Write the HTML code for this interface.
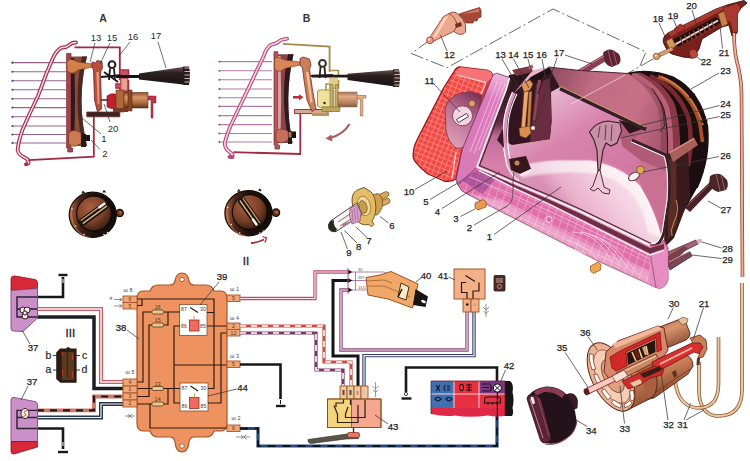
<!DOCTYPE html>
<html><head><meta charset="utf-8"><title>Headlight</title>
<style>
html,body{margin:0;padding:0;background:#fff;}
body{width:750px;height:461px;overflow:hidden;}
svg{display:block;}
svg text{font-family:"Liberation Sans",sans-serif;}
</style></head><body>
<svg width="750" height="461" viewBox="0 0 750 461">
<!-- 00_defs.svg -->
<defs>
<filter id="b1" x="-10%" y="-10%" width="120%" height="120%"><feGaussianBlur stdDeviation="0.5"/></filter>
<filter id="b2" x="-10%" y="-10%" width="120%" height="120%"><feGaussianBlur stdDeviation="1.2"/></filter>
<filter id="b3" x="-20%" y="-20%" width="140%" height="140%"><feGaussianBlur stdDeviation="3"/></filter>
<filter id="b6" x="-30%" y="-30%" width="160%" height="160%"><feGaussianBlur stdDeviation="6"/></filter>
<linearGradient id="coneG" x1="0" y1="0" x2="0" y2="1"><stop offset="0" stop-color="#6a5048"/><stop offset=".35" stop-color="#2a2020"/><stop offset="1" stop-color="#1a1414"/></linearGradient>
<linearGradient id="cylA" x1="0" y1="0" x2="0" y2="1"><stop offset="0" stop-color="#8a5030"/><stop offset=".3" stop-color="#d89868"/><stop offset=".7" stop-color="#a86838"/><stop offset="1" stop-color="#603018"/></linearGradient>
<linearGradient id="cylB" x1="0" y1="0" x2="0" y2="1"><stop offset="0" stop-color="#a08848"/><stop offset=".3" stop-color="#f0dca0"/><stop offset=".7" stop-color="#c8a868"/><stop offset="1" stop-color="#806028"/></linearGradient>
<radialGradient id="knobG" cx=".45" cy=".4" r=".6"><stop offset="0" stop-color="#7a4838"/><stop offset=".7" stop-color="#4a2820"/><stop offset="1" stop-color="#1e1210"/></radialGradient>
</defs>

<!-- 10_diagA.svg -->
<g id="diagA">
<text x="103" y="22" font-size="10.5" font-weight="bold" text-anchor="middle" fill="#333">A</text>
<!-- rays -->
<g stroke="#94648e" stroke-width="1.1">
<path d="M11.5 62.6H66M11.5 71.7H66M11.5 80.7H66M11.5 89.8H66M11.5 98.8H66M11.5 107.6H66M11.5 116.8H66M11.5 126H66M11.5 134.5H66M11.5 143H66"/>
</g>
<g fill="#604080"><circle cx="12.5" cy="62.6" r="1.2"/><circle cx="12.5" cy="71.7" r="1"/><circle cx="12.5" cy="80.7" r="1"/><circle cx="12.5" cy="89.8" r="1"/><circle cx="12.5" cy="98.8" r="1"/><circle cx="12.5" cy="107.6" r="1"/><circle cx="12.5" cy="116.8" r="1"/><circle cx="12.5" cy="126" r="1"/><circle cx="12.5" cy="134.5" r="1"/><circle cx="12.5" cy="143" r="1"/></g>
<!-- lens outline -->
<path id="lensA" d="M76 42.5 L72 43 Q69 45.5 66 47 L61 47.8 Q56 51 53 58 L47 72 L38 96 L29.5 114 L22.6 129.5 Q18.5 141 17.6 150 Q18.5 154.5 23 156.6 L27.8 159.5 L28.6 163.2 L26 164.3" fill="none" stroke="#a02c4c" stroke-width="3.8" stroke-linejoin="round" stroke-linecap="round"/>
<path d="M76 42.5 L72 43 Q69 45.5 66 47 L61 47.8 Q56 51 53 58 L47 72 L38 96 L29.5 114 L22.6 129.5 Q18.5 141 17.6 150 Q18.5 154.5 23 156.6 L27.8 159.5 L28.6 163.2" fill="none" stroke="#f8dce6" stroke-width="1.5" stroke-linejoin="round" stroke-linecap="round"/>
<!-- housing -->
<path d="M74.5 47.4 H119.8 V80 M93.8 157 V114 M28.6 160.2 L94.6 156.6" fill="none" stroke="#a02840" stroke-width="1.8"/>
<!-- shelf -->
<path d="M86.8 112 H119.8 V116.8 H86.8 Z" fill="#3a2420" stroke="#6a2830" stroke-width="0.8"/>
<!-- reflector frame -->
<path d="M66.6 53.4 H71 V148 H72.5 V152 H67.8 V148 H66.6 Z" fill="#a04848" stroke="#7a2030" stroke-width="0.7"/>
<!-- reflector body -->
<path d="M71 56.5 H87 Q76 100 87 146 H71 Z" fill="#8a4c3c"/>
<path d="M71 58 H74 Q76 100 74 144 H71 Z" fill="#2e1a1a"/>
<path d="M82 56.5 H87 Q76 100 87 146 H83 Q72.5 100 82 56.5 Z" fill="#4a2824"/>
<path d="M67 62 Q68 58.5 72 59.5 L78 62 L93 64 L93 67 L78 70 L74 73 Q69 74 67 70 Z" fill="#d08048" stroke="#7a3020" stroke-width="0.6"/>
<path d="M68.6 134 Q70 130 76 130.5 L81 133 L81.6 143 L76 146 Q70 147 68.6 143 Z" fill="#c87c50" stroke="#6a2c20" stroke-width="0.6"/>
<path d="M81 133 L86 134 L86 147 L81 147Z" fill="#2a1a1a"/>
<path d="M83 135 H90 V141 H83Z" fill="#1e1414"/>
<!-- bracket 15 -->
<path d="M92 62 L96 63 L97 60.5 L102 61.5 L102.5 68 L100.5 72 L101.5 109 L97.5 112 L94.5 100 L93.5 70 L92 67 Z" fill="#b85040" stroke="#782028" stroke-width="0.8"/>
<path d="M96.3 72 L99 72 L99.3 104 L97.6 104 Z" fill="#e09878"/>
<!-- ring 16 -->
<circle cx="112" cy="64.7" r="3.4" fill="#fff" stroke="#2a1c1c" stroke-width="2"/>
<path d="M110 68.5 L109 80 M114 68.5 L115 80 M101 77 L122 75 M104 72 L118 82" stroke="#1e1616" stroke-width="1.8" fill="none"/>
<!-- stepped housing right -->
<path d="M119.8 70 H128.5 V76 M128.5 80 V92 H120 V88 H116 V84 H122 V80" fill="none" stroke="#a02840" stroke-width="1.6"/>
<path d="M119.800 70 H128.500 V92 H120 V88 H116 V84 H119.800Z" fill="#b83848" opacity=".85"/><path d="M121.500 79 H127 V90 H121.500Z" fill="#e8a090"/>
<!-- rod + cone 17 -->
<path d="M116 75 H141 V78 H116Z" fill="#181212"/>
<path d="M139 73.5 L183 67 L183 84.5 L139 79.5 Z" fill="url(#coneG)"/>
<path d="M183 66.5 H189 Q191 75 189 85 H183 Z" fill="#2a1c1c"/>
<path d="M184.500 68H189.500M184.500 71.500H190M184.500 75H190.200M184.500 78.500H190M184.500 82H189.500" stroke="#d8c8c0" stroke-width="0.9"/>
<!-- motor 20 -->
<path d="M107 96 Q112 92 117 95 V108 Q112 110 107 107 Z" fill="#c02030" stroke="#701018" stroke-width="0.6"/>
<path d="M116 90 H124 V112 H116 Z" fill="#b06838" stroke="#603018" stroke-width="0.6"/>
<path d="M124 92.5 H148 V108 H124 Z" fill="url(#cylA)" stroke="#5a2c18" stroke-width="0.6"/>
<path d="M128 90 H132 V111 H128Z" fill="#8a4828" stroke="#4a2010" stroke-width="0.5"/>
<path d="M101 100 H108" stroke="#402020" stroke-width="1.5"/>
<path d="M148 96 H156 V103 H153 V118 H151 V100 H148 Z" fill="#b83848" stroke="#802030" stroke-width="0.5"/>
<path d="M113 108 H128 V112 H113 Z" fill="#7a3828"/>
<!-- labels -->
<g font-size="9.5" fill="#2a2a2a">
<text x="96" y="41" text-anchor="middle">13</text>
<text x="112" y="41" text-anchor="middle">15</text>
<text x="133" y="40" text-anchor="middle">16</text>
<text x="156" y="39" text-anchor="middle">17</text>
<text x="113" y="131.5" text-anchor="middle">20</text>
<text x="104" y="141.5" text-anchor="middle">1</text>
<text x="105" y="156.5" text-anchor="middle">2</text>
</g>
<g stroke="#333" stroke-width="0.7" fill="none">
<path d="M95 43 L90 62M110 43 L100 64M130 42 L119 56M158 42 L166 68M110 122 L104 104M101 134 L82 118M100 149.5 L91 140"/>
</g>
</g>

<!-- 11_diagB.svg -->
<g id="diagB">
<text x="306.5" y="22" font-size="10.5" font-weight="bold" text-anchor="middle" fill="#333">B</text>
<g stroke="#b07ca8" stroke-width="1.1">
<path d="M218.5 61.6H272M218.5 70.8H272M218.5 79.8H272M218.5 89H272M218.5 97.7H272M218.5 106.4H272M218.5 115.6H272M218.5 124.6H272M218.5 133.5H272M218.5 142H272"/>
</g>
<g fill="#805080"><circle cx="219.5" cy="61.6" r=".9"/><circle cx="219.5" cy="70.8" r=".9"/><circle cx="219.5" cy="79.8" r=".9"/><circle cx="219.5" cy="89" r=".9"/><circle cx="219.5" cy="97.7" r=".9"/><circle cx="219.5" cy="106.4" r=".9"/><circle cx="219.5" cy="115.6" r=".9"/><circle cx="219.5" cy="124.6" r=".9"/><circle cx="219.5" cy="133.5" r=".9"/><circle cx="219.5" cy="142" r=".9"/></g>
<!-- lens -->
<path d="M287 38.7 L281 40 Q278 42.5 275 43.6 L271 44.8 Q266 48 263.8 56 L257 70 L247.3 90.8 L238 110 L230.5 126 Q226 137 224.8 143 Q224.8 148 228.5 151 L232.5 154.5 L232.6 157 L229.5 156.8" fill="none" stroke="#b04878" stroke-width="3.8" stroke-linejoin="round" stroke-linecap="round"/>
<path d="M287 38.7 L281 40 Q278 42.5 275 43.6 L271 44.8 Q266 48 263.8 56 L257 70 L247.3 90.8 L238 110 L230.5 126 Q226 137 224.8 143 Q224.8 148 228.5 151 L232.5 154.5" fill="none" stroke="#f6cce0" stroke-width="1.7" stroke-linejoin="round" stroke-linecap="round"/>
<!-- housing -->
<path d="M283 43.8 L329.6 46.6 V72" fill="none" stroke="#a88848" stroke-width="1.8"/>
<path d="M300.3 154 V112 M233.5 152.2 L301 154" fill="none" stroke="#a02c44" stroke-width="1.8"/>
<!-- shelf -->
<path d="M294.5 109.5 H328 V113.6 H294.5 Z" fill="#d8a890" stroke="#a03048" stroke-width="1"/>
<path d="M312 113 H329 V116 H312Z" fill="#b89858"/>
<!-- reflector frame -->
<path d="M274 51.7 H277.8 V145 H279.5 V149 H275 V145 H274 Z" fill="#b05858" stroke="#7a2030" stroke-width="0.7"/>
<!-- body -->
<path d="M278 54.3 H293.5 Q283.5 98 292.5 143 H278 Z" fill="#8a4448"/>
<path d="M288 54.3 H293.5 Q283.5 98 292.5 143 H289 Q279.5 98 288 54.3 Z" fill="#2c1a1c"/>
<path d="M278 56 H280.5 Q282 98 280.5 141 H278 Z" fill="#d8a0a0"/>
<path d="M274.5 60 Q275.5 56.5 279 57.5 L285 60 L300 62 L300 65 L285 68.5 L281 71 Q276 72 274.5 68 Z" fill="#d88858" stroke="#7a3020" stroke-width="0.6"/>
<path d="M276 132 Q277.5 128.5 283 129 L288 131 L288.5 140 L283 142.5 Q277.5 143.5 276 140 Z" fill="#c87060" stroke="#6a2c20" stroke-width="0.6"/>
<path d="M288 131 H292 V144 H288Z" fill="#2a1a1a"/>
<path d="M290 131.5 H296 V138 H290Z" fill="#1e1414"/>
<path d="M288.5 132 H291.5 V137.5 H288.5Z" fill="#b07050"/>
<!-- bracket 15 tilted -->
<path d="M300 58.5 L303 57 L309.5 59 L311 65 L309.5 69 L312.5 90 L316 109 L312 111.5 L307 100 L304 80 L302.5 68 L300 65 Z" fill="#c88058" stroke="#782828" stroke-width="0.8"/>
<path d="M306 72 L308.5 72 L312.5 102 L310.5 103 Z" fill="#f0c098"/>
<!-- red arrow -->
<path d="M293 96 H299 V94.3 L303.5 97.3 L299 100.3 V98.6 H293 Z" fill="#c02838"/>
<!-- ring -->
<circle cx="322.5" cy="63.4" r="3.4" fill="#fff" stroke="#3a3020" stroke-width="2"/>
<path d="M320.5 67 L319.5 78 M324.5 67 L325.5 78 M311 76 L333 75" stroke="#2a2418" stroke-width="1.8" fill="none"/>
<!-- stepped housing -->
<path d="M329.6 70.5 H338.5 V76 M338.5 80 V88 H330 V84 H326 V92" fill="none" stroke="#a89048" stroke-width="1.6"/>
<path d="M329 78 H338 V88 H329Z" fill="#d8c070" opacity=".8"/>
<!-- rod + cone -->
<path d="M312 74.8 H349 V77.6 H312Z" fill="#201818"/>
<path d="M347.5 73.8 L393 70 L393 86.2 L347.5 80 Z" fill="url(#coneG)"/>
<path d="M393 69.3 H399 Q401 78 399 87 H393 Z" fill="#3a2828"/>
<path d="M394.500 71H399.500M394.500 74.500H400M394.500 78H400.200M394.500 81.500H400M394.500 85H399.500" stroke="#d8c8c0" stroke-width="0.9"/>
<!-- motor -->
<path d="M317.5 91 Q320 89 324 90 H334 V107 H324 Q320 108 317.5 106 Z" fill="#f0e0a0" stroke="#807030" stroke-width="0.7"/>
<path d="M330 84.5 H333 V111.5 H330Z M335.5 84.5 H338 V111.5 H335.5Z" fill="#c8b060" stroke="#706020" stroke-width="0.5"/>
<path d="M338 92 H357 Q358.5 99 357 107 H338 Z" fill="url(#cylA)" opacity=".8" stroke="#704830" stroke-width="0.5"/>
<path d="M357 95.5 H366 V98 H362.8 V116 H360.3 V99 H357 Z" fill="#e0b088" stroke="#a05840" stroke-width="0.6"/>
<path d="M322 107 H340 V111.5 H322 Z" fill="#c0a858" stroke="#706020" stroke-width="0.5"/>
<circle cx="324.5" cy="103" r="1.3" fill="#403010"/>
<!-- curved arrow -->
<path d="M349.5 124 Q344 134 330 138" fill="none" stroke="#b05860" stroke-width="2.2"/>
<path d="M325.5 138.5 L331.5 134.5 L332.5 141.5 Z" fill="#b05860"/>
</g>

<!-- 20_knobs.svg -->
<g id="knobs">
<defs>
<radialGradient id="kd" cx=".38" cy=".32" r=".8"><stop offset="0" stop-color="#a86040"/><stop offset=".55" stop-color="#7a4028"/><stop offset="1" stop-color="#2a1410"/></radialGradient>
<linearGradient id="kr" x1="0" y1="0" x2="1" y2="0"><stop offset="0" stop-color="#b06840"/><stop offset=".22" stop-color="#4a2418"/><stop offset=".5" stop-color="#1c120e"/><stop offset="1" stop-color="#140c0a"/></linearGradient>
</defs>
<g id="knobA">
<circle cx="119.700" cy="213" r="3.700" fill="#6a3020" stroke="#1c100c" stroke-width="1.200"/>
<circle cx="120.300" cy="212.600" r="1.400" fill="#b06848"/>
<ellipse cx="92.800" cy="214.800" rx="23.600" ry="22.600" fill="url(#kr)"/>
<ellipse cx="92.800" cy="214.800" rx="23.600" ry="22.600" fill="none" stroke="#140c08" stroke-width="1.200"/>
<path d="M72 206 Q70 216 74 226 Q80 236 90 237.500" fill="none" stroke="#c07850" stroke-width="1.200" opacity=".8"/>
<circle cx="94.300" cy="213.800" r="18.200" fill="#120a08"/>
<circle cx="94" cy="213.600" r="16.800" fill="url(#kd)"/>
<g transform="rotate(-36 94 213.600)">
<rect x="77.500" y="209.800" width="33" height="7.600" rx="2.500" fill="#160e0a"/>
<rect x="79" y="210.800" width="26" height="1.300" fill="#c8a070"/>
<rect x="79" y="214.300" width="30" height="1.500" fill="#d8b880"/>
<rect x="101" y="210.300" width="8.500" height="2.600" rx="1.200" fill="#fbf6ec"/>
</g>
<g fill="#f0e4d8"><circle cx="72" cy="209" r=".8"/><circle cx="75.500" cy="226" r=".8"/><circle cx="84" cy="234.500" r=".8"/><circle cx="104" cy="234.500" r=".8"/><circle cx="107.500" cy="232.500" r=".8"/></g>
<path d="M82 193.500 L83 191.500 L84.500 193 M103 192.500 L104 190.800 L105.500 192.500" fill="none" stroke="#1c100c" stroke-width="1.200"/>
</g>
<g id="knobB">
<circle cx="276" cy="212.600" r="3.700" fill="#6a3020" stroke="#1c100c" stroke-width="1.200"/>
<circle cx="276.600" cy="212.200" r="1.400" fill="#b06848"/>
<ellipse cx="248.500" cy="213.200" rx="23.600" ry="22.600" fill="url(#kr)"/>
<ellipse cx="248.500" cy="213.200" rx="23.600" ry="22.600" fill="none" stroke="#140c08" stroke-width="1.200"/>
<path d="M227.700 204.500 Q225.700 214.500 229.700 224.500 Q235.700 234.500 245.700 236" fill="none" stroke="#c07850" stroke-width="1.200" opacity=".8"/>
<circle cx="250" cy="212.200" r="18.200" fill="#120a08"/>
<circle cx="249.700" cy="212" r="16.800" fill="url(#kd)"/>
<g transform="rotate(55 249.700 212)">
<rect x="233.200" y="208.200" width="33" height="7.600" rx="2.500" fill="#160e0a"/>
<rect x="234.700" y="209.200" width="30" height="1.300" fill="#c8a070"/>
<rect x="234.700" y="212.700" width="26" height="1.500" fill="#d8b880"/>
<rect x="256.500" y="212.300" width="8.500" height="2.600" rx="1.200" fill="#fbf6ec"/>
</g>
<g fill="#f0e4d8"><circle cx="227.700" cy="207.500" r=".8"/><circle cx="231.200" cy="224.500" r=".8"/><circle cx="239.700" cy="233" r=".8"/><circle cx="259.700" cy="233" r=".8"/><circle cx="263.200" cy="231" r=".8"/></g>
<path d="M237.700 192 L238.700 190 L240.200 191.500 M258.700 191 L259.700 189.300 L261.200 191" fill="none" stroke="#1c100c" stroke-width="1.200"/>
<path d="M251 243 Q258 242.500 264 239.500" fill="none" stroke="#a03038" stroke-width="1.800"/>
<path d="M262.500 236.500 L266.500 238 L265 242.500" fill="none" stroke="#a03038" stroke-width="1.300"/>
</g>
</g>

<!-- 22_bulb.svg -->
<g id="bulb">
<!-- terminals -->
<path d="M378 195 L386 191.500 L389 193 L388.500 196 L381 200 Z M380.500 201 L388 198 L390 200 L389.500 203 L383 206 Z" fill="#d8a858" stroke="#6a4418" stroke-width=".7"/>
<!-- base -->
<path d="M368 196 L378 193.500 Q383 197 382.500 204 Q382 211 377 215 L368 214 Z" fill="#d0a050" stroke="#6a4418" stroke-width=".7"/>
<!-- flange -->
<path d="M352 200 Q352 191 360 189 L364 187.500 L367 189.500 Q374 192 375.500 202 Q377 214 372 221 L374 224.500 L371.500 226.500 L368.500 224.500 Q360 226 356 219 Q352 211 352 200 Z" fill="#e4bc68" stroke="#6a4818" stroke-width=".9"/>
<ellipse cx="364" cy="206" rx="6.500" ry="10" transform="rotate(-15 364 206)" fill="#f0d898" stroke="#8a6828" stroke-width=".7"/>
<ellipse cx="363" cy="207" rx="4" ry="6.500" transform="rotate(-15 363 207)" fill="#c89c48" stroke="#6a4818" stroke-width=".6"/>
<!-- glass -->
<path d="M357 203 L330.500 221 Q327 225 329 229 Q331 232.500 336 231.500 L362 214.500 Z" fill="#f8f4f0" stroke="#3a3430" stroke-width=".9"/>
<path d="M330.500 221 Q327 225 329 229 Q331 232.500 336 231.500 L337 229 Q333 226 334 220 Z" fill="#2a2624"/>
<path d="M350 208 L357.500 205 L361 213 L360 221 L352 224 L349.500 216 Z" fill="#d8a0c8" stroke="#8a4878" stroke-width=".7"/>
<path d="M352 209 L353 222 M354.500 208 L355.500 221 M357 207 L358 220" stroke="#9a5888" stroke-width=".6"/>
<path d="M338 222 L350 214 M340 226 L351 219" stroke="#5a4a48" stroke-width=".8"/>
<path d="M342 224 L350 221.500 L349 224 L343 226.500Z" fill="#b070a0"/>
</g>

<!-- 25_topparts.svg -->
<g id="topparts">
<defs>
<linearGradient id="tubeG" x1="0" y1="0" x2="1" y2="0"><stop offset="0" stop-color="#c87860"/><stop offset=".5" stop-color="#f4c4a8"/><stop offset="1" stop-color="#b86850"/></linearGradient>
</defs>
<!-- dash-dot outline -->
<path d="M430 40 L411.3 53.5 L447 67.7 L553 9 L646 52 L639 68 M653 59 L625 75" fill="none" stroke="#5a5a54" stroke-width=".9" stroke-dasharray="14 3 2 3"/>
<path d="M625 75 L571 104" stroke="#f0d8e0" stroke-width=".7"/>
<!-- part 12 -->
<path d="M459 14 L479.5 7.5 L481 10 L481 17 L478 18 L477 21 L474 20.5 L473 23 L466 23 Z" fill="#a84838" stroke="#6a2418" stroke-width=".7"/>
<path d="M462 14 L479 8.5 L479 12 Z" fill="#d07860"/>
<path d="M449 13.5 Q452 11 456 12.5 L463 19 Q467 26 465.5 32 Q463 35.5 458 34 L453 31 Q458 28 456 22 Q454 17 449 13.5 Z" fill="#e8a890" stroke="#7a3020" stroke-width=".8"/>
<path d="M443.5 16.5 L449 13.5 Q455 17 456.5 23 Q457 28 453.5 31.5 L433 41.5 L430 37 Z" fill="#eba88c" stroke="#8a3828" stroke-width=".8"/>
<path d="M444 18 L448.5 15.5 L436 37 L432.5 38 Z" fill="#f8d4c0"/>
<path d="M455 24 L461 22 L462 26 L456 28Z" fill="#7a3020"/>
<circle cx="430" cy="40.3" r="3.4" fill="#e89880" stroke="#8a3828" stroke-width=".8"/>
<circle cx="429.2" cy="39.4" r="1.2" fill="#fbe0d4"/>
<!-- part 18-22 cylinder -->
<g>
<path d="M664 44 Q661 38 668 33 L716 9 L727 5 L744 0.5 L747 3 L740 9 L737 14 L737 33 L732 36 L729 25 L722 27 L702 39 L699 49 L693 58 L683 57 L672 54 Q667 52 664 44 Z" fill="#7a201c" stroke="#3a0c0c" stroke-width=".9"/>
<path d="M672 40 L716 17 L722 22 L678 47 Z" fill="#1c1010"/>
<path d="M675 44.5 L718 20.5" stroke="#f4d8d0" stroke-width="2"/>
<path d="M680 37 L683 44 M684.500 35 L687.500 42 M689 32.500 L692 39.500 M693.500 30.500 L696.500 37.500 M698 28 L701 35 M702.500 25.500 L705.500 32.500 M707 23 L710 30 M711.500 21 L714.500 28" stroke="#b85040" stroke-width="1"/>
<path d="M668 33 L716 9 L727 5 L728 8 L718 12.500 L671 36.500 Z" fill="#a43c30"/>
<path d="M723 8 L737 3 L741 8 L737.500 14 L737.500 32 L733 33 L730 22 L724 20 Z" fill="#a83830" stroke="#5a1410" stroke-width=".6"/>
<path d="M718 14 L724 11 L728 24 L722 27Z" fill="#c88048" stroke="#5a2410" stroke-width=".5"/>
<path d="M666 41 L672 38 L676 46 L670 50Z" fill="#d09858" stroke="#6a3410" stroke-width=".5"/>
<path d="M674 29 L680 24 L685 26 L684 30 L677 33Z" fill="#b03028" stroke="#5a1410" stroke-width=".5"/>
<path d="M689 52 Q691 48 696 50 L698 55 Q696 59 691 58 Z" fill="#b84838" stroke="#5a1410" stroke-width=".6"/>
<path d="M659 53 L672 47 L673.500 50 L660.500 56.500 Z" fill="#d8a070" stroke="#7a4020" stroke-width=".6"/>
<circle cx="656.5" cy="56.4" r="3.2" fill="#d89868" stroke="#7a4020" stroke-width=".7"/>
<circle cx="655.7" cy="55.5" r="1.1" fill="#f8e0c8"/>
</g>
<!-- tube right -->
<path d="M734 33 Q734 48 736.500 60 Q741 76 741.500 92 L742.500 277" fill="none" stroke="#8a4030" stroke-width="3.6"/>
<path d="M734 33 Q734 48 736.500 60 Q741 76 741.500 92 L742.500 277" fill="none" stroke="#f0b098" stroke-width="2"/>
<path d="M742 283 L742 390 Q742 416 718 416 L716 416 Q700 414 699 392 L699 362" fill="none" stroke="#8a5838" stroke-width="3.6"/>
<path d="M742 283 L742 390 Q742 416 718 416 L716 416 Q700 414 699 392 L699 362" fill="none" stroke="#ecc8a0" stroke-width="2"/>
<path d="M718.500 337 L718.500 384 Q718.500 408 698 408 Q680 407 676 386 L673.500 371" fill="none" stroke="#8a5838" stroke-width="3.6"/>
<path d="M718.500 337 L718.500 384 Q718.500 408 698 408 Q680 407 676 386 L673.500 371" fill="none" stroke="#ecc8a0" stroke-width="2"/>
</g>

<!-- 30_headlight.svg -->
<g id="headlight">
<defs>
<pattern id="chk" width="5" height="5" patternUnits="userSpaceOnUse" patternTransform="rotate(22)"><rect width="5" height="5" fill="#f24848"/><path d="M0 0H5M0 0V5" stroke="#fc9080" stroke-width="1.5"/></pattern>
<pattern id="chk2" width="7" height="7" patternUnits="userSpaceOnUse" patternTransform="matrix(1 .48 -.35 1 0 0)"><rect width="7" height="7" fill="#e070aa"/><path d="M0 0H7M0 0V7" stroke="#f8b4d6" stroke-width="1"/></pattern>
<linearGradient id="frameG" x1="495" y1="72" x2="465" y2="180" gradientUnits="userSpaceOnUse"><stop offset="0" stop-color="#f0b8dc"/><stop offset=".25" stop-color="#dc78bc"/><stop offset="1" stop-color="#d87cb8"/></linearGradient>
<linearGradient id="bowlG" x1="640" y1="175" x2="575" y2="225" gradientUnits="userSpaceOnUse"><stop offset="0" stop-color="#f8e8ee"/><stop offset=".4" stop-color="#f4d0e0"/><stop offset=".8" stop-color="#eab0cc"/><stop offset="1" stop-color="#d890b4"/></linearGradient>
<linearGradient id="bowlG2" x1="0" y1="160" x2="0" y2="200" gradientUnits="userSpaceOnUse"><stop offset="0" stop-color="#fff" stop-opacity=".9"/><stop offset="1" stop-color="#fff" stop-opacity="0"/></linearGradient>
<linearGradient id="topG" x1="556" y1="80" x2="668" y2="125" gradientUnits="userSpaceOnUse"><stop offset="0" stop-color="#985068"/><stop offset=".3" stop-color="#c06c84"/><stop offset=".7" stop-color="#c87088"/><stop offset="1" stop-color="#a85870"/></linearGradient>
<linearGradient id="intG" x1="540" y1="100" x2="600" y2="200" gradientUnits="userSpaceOnUse"><stop offset="0" stop-color="#e8b4d0"/><stop offset=".4" stop-color="#d884ac"/><stop offset="1" stop-color="#d076a0"/></linearGradient>
<linearGradient id="stripG" x1="500" y1="76" x2="490" y2="165" gradientUnits="userSpaceOnUse"><stop offset="0" stop-color="#2a1218"/><stop offset=".5" stop-color="#5a2840"/><stop offset=".68" stop-color="#c06c98"/><stop offset="1" stop-color="#d880ac"/></linearGradient>
<linearGradient id="sockG" x1="478" y1="95" x2="445" y2="140" gradientUnits="userSpaceOnUse"><stop offset="0" stop-color="#7a3458"/><stop offset=".4" stop-color="#b8688c"/><stop offset="1" stop-color="#dca0b8"/></linearGradient>
</defs>
<!-- knob 17 top -->
<path d="M576 71 L604 54.500 L607.500 60 L582 75.500 Z" fill="#8a4054"/>
<path d="M578 71.500 L604 56" stroke="#c88898" stroke-width="1"/>
<path d="M603 53 Q607 48 613 50 L619 54 Q622 60 619 64 L612 67 Q607 66 605 62 Z" fill="#5a2430"/>
<path d="M608 50 L612 66 M613 50 L617 65" stroke="#a86070" stroke-width=".9"/>
<!-- knob 27 -->
<path d="M684 207 L710 182 L714 187 L690 212 Z" fill="#4a2028"/>
<path d="M686 207 L710 184" stroke="#9a6068" stroke-width=".9"/>
<path d="M710 176 Q716 172 722 175 L727 180 Q729 186 726 190 L718 192 Q712 190 709 185 Z" fill="#4a2428"/>
<path d="M716 174 L720 191 M721 175 L725 190" stroke="#9a6a68" stroke-width=".9"/>
<!-- rods 28 29 -->
<path d="M668 252 L696 240 L698 244 L670 258 Z" fill="#a06474" stroke="#3a1820" stroke-width=".7"/>
<path d="M696 240 L701 238.500 L702.500 242 L698 244Z" fill="#d8b0b8"/>
<path d="M668 262 L690 252 L692 256 L670 270 Z" fill="#7a4858" stroke="#3a1820" stroke-width=".7"/>
<path d="M668 256 L684 246 L688 248 L668 268Z" fill="#7a4048"/>
<path d="M669 262 L690 251" stroke="#d098a8" stroke-width="1"/>
<!-- dark cap 23 -->
<path d="M628 73.500 Q650 68 674 77.500 Q700 91 707.500 126 Q710.500 158 697 188 L684 211 L668 238 L664 160 Z" fill="#1c0e10"/>
<path d="M636 75 Q662 85 671.500 107 Q677 128 676 152" fill="none" stroke="#8a3848" stroke-width="8"/>
<path d="M632 74 Q657.500 85.500 666.500 107.500 Q671.500 128 670.500 154" fill="none" stroke="#b86074" stroke-width="5"/>
<path d="M650 76 Q678 88 688.500 118 Q693 140 688 166" fill="none" stroke="#7a2830" stroke-width="4.500"/>
<path d="M658 76.500 Q690 88 700 124 L702.500 142" fill="none" stroke="#a85028" stroke-width="3.6"/>
<path d="M661 76.500 Q693 90 703 125" fill="none" stroke="#e08850" stroke-width="1.600" opacity=".9"/>
<path d="M628 73.500 Q650 68 674 77.500 Q700 91 707.500 126 Q710.500 158 697 188" fill="none" stroke="#1c0e10" stroke-width="1.400"/>
<path d="M689 97.500 L695 94 M701 122 L707.500 121" stroke="#1a0c0c" stroke-width="1.600"/>
<!-- body side (right) -->
<path d="M666 154 L688 150 L690 196 L674 238 L664 248 Z" fill="#3a1a1c"/>
<path d="M668 160 L676 158 L677 224 L668 240 Z" fill="#5a2c28"/>
<path d="M669 152 L694 137.500 L698 145 L673 162 Z" fill="#a86058"/>
<path d="M670 152.500 L694 138.500" stroke="#e0a8a0" stroke-width="1"/>
<path d="M676 200 Q680 210 674 222 Q670 230 672 236" fill="none" stroke="#c89040" stroke-width="1"/>
<!-- top face -->
<path d="M548 67 L580 70.500 L628 73.500 Q654 86 663 108 Q668 128 667 157 L634 140 L646 128 L560 87 Z" fill="url(#topG)"/>
<path d="M628 73.500 Q654 86 663 108 Q668 128 667 157 L660 152 Q663 128 657.500 108 Q650 88 628 73.500Z" fill="#3a141c" opacity=".22"/>
<path d="M652 88 Q664.500 104 664.500 126 L660 132" fill="none" stroke="#3a1c24" stroke-width=".9"/>
<path d="M548 67 L580 70.500 L628 73.500" fill="none" stroke="#4a2430" stroke-width="1.200"/>
<!-- interior reflector base -->
<path d="M509 75 L548 67 L560 87 L646 129 L634 140 L666 155 Q671 170 669 200 L664 232 Q660 248 650 245.5 L580 211.5 L512 182 L477 167 L486 132 Z" fill="url(#intG)"/>
<!-- bowl -->
<path d="M514 180 L520 167 Q530 161.500 560 160.500 L590 160.500 Q622 166 641 187 Q656 212 662 238 Q658 247 650 245.5 L580 211.5 Z" fill="url(#bowlG)"/>
<path d="M520 167 Q530 161.500 560 160.500 L590 160.500 Q622 166 641 187 Q656 212 662 238 L648 232 Q644 208 632 194 Q616 176 590 173 Q552 171 522 178 Z" fill="#fff" opacity=".6" filter="url(#b2)"/>
<!-- area right of bowl -->
<path d="M641 187 Q656 212 662 238 L664 232 L669 200 Q671 170 666 155 L640 160 Z" fill="#c87090" opacity=".8"/>
<!-- back wall piece right of shield -->
<path d="M619 120 L646.500 128 L634 140 L666 155 L667 172 L640 160 L622 146 Z" fill="#b05c78"/>
<!-- strip between frame and rim -->
<path d="M509 75 L532 71 L514 93 L505 120 L503.500 140 L507 163 L516 179 L477 167 L489.800 132 L506 90 Z" fill="url(#stripG)"/>
<!-- cutaway box -->
<path d="M514 93 L531 77 L549 67.500 L560 87 L551 92 L551.600 121 L549.800 139 L512 145 L504.500 141 L505.500 120 Z" fill="#34141e"/>
<path d="M536 84 L550 78 L551.600 121 L549.800 139 L530 142 Z" fill="#6a2c40"/>
<path d="M530 77.500 L549 67.500 L552 72 L535 81 Z" fill="#1c1012"/>
<!-- mechanism -->
<path d="M512 70 L528 66.500 L532 68 L532.500 72 L516 76 Z" fill="#7a3844"/>
<path d="M528 66 L532.500 64.500 L533.500 68 L529 69.500Z" fill="#b06874"/>
<path d="M521 84 L530 80 L533 84 L530 90 L524 92 Z" fill="#e09858" stroke="#6a3818" stroke-width=".5"/>
<path d="M524 92 L528.500 91 L525 130 L521 131 Z" fill="#eca870" stroke="#6a3818" stroke-width=".5"/>
<path d="M529 92 L532 91 L530 128 L527 129 Z" fill="#c88048" stroke="#6a3818" stroke-width=".4"/>
<path d="M519 128 L530 126 L531 133 L526 138 L520 136 Z" fill="#d89050" stroke="#6a3818" stroke-width=".5"/>
<circle cx="533" cy="128" r="2" fill="#f8ece4"/>
<path d="M538 80 L541 80 L535 120 L533 120 Z" fill="#8a4858"/>
<path d="M545 74 L538 94" stroke="#3a2020" stroke-width="1.200"/>
<!-- rim double white curve -->
<path d="M514 93 Q506 110 505 125 Q503.500 145 508 163 Q511 173 520 179" fill="none" stroke="#d898bc" stroke-width="4"/>
<path d="M512.500 92 Q504.500 110 503.500 125 Q502 145 506.500 164 Q510 175 519 181" fill="none" stroke="#fff" stroke-width="1.100"/>
<path d="M517 94 Q509 110 508 125 Q506.500 145 510.500 161 Q513.500 170 522 176" fill="none" stroke="#fff" stroke-width="1.100"/>
<!-- dark wedge -->
<path d="M497 140 L503 128 L504 148 Z" fill="#3a1828"/>
<!-- adjuster box 2 -->
<path d="M509 159 L526 156 L531 169 L520 174 L511 170 Z" fill="#34181c"/>
<circle cx="517" cy="163" r="2.500" fill="#c88458"/>
<path d="M520 174 L531 169 L532 171 L521 176.500Z" fill="#fbe4ec"/>
<!-- shield 24/25 -->
<path d="M589.500 132 Q596 122 608 121 L620 123 L621.500 131 L617 143 L611 146 L606 143 L603 150 L600 170 L598 171 L597 150 L594 140 Z" fill="#c890a4" stroke="#3a1c24" stroke-width="1.100"/>
<path d="M600 126 L598 138 M606 125 L605 140 M612 125 L611 141" stroke="#5a2c38" stroke-width=".9"/>
<path d="M598 171 L593 186 L590 189 L594 191 L598 188 L603 193 L609 194 L610 190 L604 187 L600 170Z" fill="#f0c8d8" stroke="#3a1c24" stroke-width=".9"/>
<!-- cut edge -->
<path d="M619 120 L646.800 127.500 L629.500 133.500 Z" fill="#2a1418"/>
<path d="M560 88.600 L646 129.600" stroke="#34202c" stroke-width="3.400"/>
<path d="M560 86.200 L645 126.800" stroke="#c8a050" stroke-width=".9"/>
<!-- bulb 26 -->
<ellipse cx="634" cy="176.500" rx="6" ry="3.600" transform="rotate(-30 634 176.5)" fill="#f8ecf0" stroke="#4a2830" stroke-width=".9"/>
<circle cx="640.500" cy="170" r="4" fill="#dca850" stroke="#6a4020" stroke-width=".7"/>
<!-- right rim -->
<path d="M632 140 L666 155 Q671 170 669 200 L664 232 Q660 248 650 245.5" fill="none" stroke="#3a2024" stroke-width="2.800"/>
<path d="M631 141.800 L664.300 156.600 Q668.800 170 667 200 L662.300 231 Q659 245.5 650 243.5" fill="none" stroke="#fff" stroke-width="1"/>
<!-- red lens -->
<path d="M460 67 L488 70.5 Q494 72.5 492.5 78 L462 150 L456 179 Q450 182.500 444 181 L428 174 Q414 163 413.200 157 Q412.800 148 417 140 L443 89 L454 71.500 Q456.500 67 460 67 Z" fill="url(#chk)" stroke="#981418" stroke-width="1.300"/>
<path d="M460 67 L488 70.5 Q494 72.5 492.5 78 L490 84 L455.500 74.500 Z" fill="#f47478"/><path d="M492.500 78 L462 150 L459 160 L485 83 Z" fill="#c82c30" opacity=".7"/>
<path d="M456.500 75 L486 82.500 L476 108" fill="none" stroke="#ffd8d8" stroke-width="1.100"/>
<path d="M456 152 L452 178" stroke="#ffd8d8" stroke-width="1.200"/>
<!-- socket cavity -->
<path d="M445 109 Q448 98 458 94 L470 91.500 L482 95 L478 112 L470 140 Q464 150 456 148 Q448 142 446 130 Z" fill="url(#sockG)" stroke="#6a2c48" stroke-width=".7"/>
<circle cx="462.500" cy="115.800" r="10" fill="#f4d4e2" stroke="#7a4060" stroke-width=".9"/>
<path d="M456.500 119.500 L466.500 113.500 L468.500 116.500 L458.500 122.500Z" fill="#fff" stroke="#3a2030" stroke-width=".9"/>
<circle cx="472" cy="103.500" r="3.300" fill="#e0a060" stroke="#704020" stroke-width=".7"/>
<!-- purple frame left -->
<path d="M493 75 L496.5 73.200 L509.500 77.500 L506 90 L489.800 132 L477 167 L458 185 L456 180 L462 150 Z" fill="url(#frameG)" stroke="#7a3868" stroke-width=".9"/>
<path d="M497.5 81 L470 152 M501.5 82 L474 154 M505 84 L479 150" stroke="#f6d0e8" stroke-width=".8" opacity=".85"/>
<!-- bottom band -->
<path d="M458 185 L477 167 L512 182 L550 198 L580 211.5 L650 245.5 Q660 246 664 240 L668 248 L668 280 Q664 291 656 287.500 L600 262 L486 204 L462 191 Z" fill="url(#chk2)" stroke="#8a3c70" stroke-width=".9"/>
<path d="M461 180 L476 170 L496 179 L482 194 Z" fill="#8a3c8c" opacity=".55"/>
<path d="M470 194 L486 204 L600 262 L650 285 L650 272 L600 250 L500 200 Z" fill="#fff" opacity=".35" filter="url(#b2)"/>
<path d="M650 252 L664 248 L668 250 L668 280 Q664 291 656 287.500 L648 284 Z" fill="#e890c4" opacity=".85"/>
<path d="M656 287.500 L650 252" stroke="#8a3c70" stroke-width=".7"/>
<!-- rim lines -->
<path d="M479 169 L512 184 L550 200 L580 213.5 L650 248 L664 244 L664 249 L650 253.5 L580 218.5 L550 203.5 L512 186 Z" fill="#6a3040"/>
<path d="M509.5 78 L506 90 L489.800 132 L477 167 L512 182 L550 198 L580 211.5 L650 245.5" fill="none" stroke="#fff" stroke-width="1.600"/>
<path d="M511.5 79.500 L508 91 L491.800 133 L479.500 165.500 L513 180 L551 196 L581 209.5 L651 243.5" fill="none" stroke="#4a2430" stroke-width="1.200"/>
<path d="M479 170.5 L512 187.2 L550 204.8 L580 219.8 L650 255 L664 250.5" fill="none" stroke="#fff" stroke-width="1.200"/><path d="M470 177 L511 194 L549 211 L579 225 L650 259" fill="none" stroke="#f4cce4" stroke-width=".8" opacity=".8"/>
<!-- emblem -->
<circle cx="549" cy="219.500" r="3" fill="none" stroke="#fbe0ee" stroke-width=".9"/>
<path d="M572 232 Q596 232 612 262 M580 232 Q602 234 620 265 M590 234 Q608 238 628 268 M600 238 Q616 244 636 272 M566 240 Q584 244 596 258 M566 247 Q578 250 586 254" fill="none" stroke="#fad4e8" stroke-width=".8" opacity=".9"/>
<!-- parts 3 -->
<path d="M475 203 L483 199.500 L486.500 202 L486 207 L478 210 L475 208 Z" fill="#e89850" stroke="#8a4818" stroke-width=".7"/>
<path d="M590.500 266 L598 262 L601 264.500 L600.500 270 L593 273.500 L590.500 271 Z" fill="#eca850" stroke="#8a4818" stroke-width=".7"/>
</g>

<!-- 40_actuator.svg -->
<g id="actuator">
<defs>
<linearGradient id="cop1" x1="0" y1="0" x2=".45" y2="1"><stop offset="0" stop-color="#e8a880"/><stop offset=".5" stop-color="#c07850"/><stop offset="1" stop-color="#7a4028"/></linearGradient>
<linearGradient id="cop2" x1="0" y1="0" x2=".45" y2="1"><stop offset="0" stop-color="#a85838"/><stop offset=".4" stop-color="#d89870"/><stop offset="1" stop-color="#8a4830"/></linearGradient>
<linearGradient id="rimG" x1="0" y1="340" x2="0" y2="414" gradientUnits="userSpaceOnUse"><stop offset="0" stop-color="#e8b090"/><stop offset=".55" stop-color="#d08860"/><stop offset="1" stop-color="#9a5838"/></linearGradient>
</defs>
<!-- lower copper half body -->
<path d="M640 384 L683 354 Q693 356 693 366 L688 374 L654 398 L640 400 Z" fill="url(#cop1)" stroke="#5a2418" stroke-width=".9"/>
<path d="M650 396 L690 369" stroke="#6a3020" stroke-width="1" fill="none" opacity=".7"/>
<!-- flange wheel -->
<g transform="rotate(-27 611 377)">
<clipPath id="rimclip"><rect x="590" y="368" width="80" height="60"/></clipPath>
<g clip-path="url(#rimclip)">
<ellipse cx="636" cy="377" rx="19" ry="37" fill="#a86040" stroke="#5a2418" stroke-width=".9"/>
<path d="M611 340 H636 V414 H611 Z" fill="url(#rimG)"/>
<path d="M611 414 H636" stroke="#5a2418" stroke-width=".9"/>
</g>
<ellipse cx="611" cy="377" rx="19" ry="37" fill="#ecb494" stroke="#5a2418" stroke-width="1"/>
<ellipse cx="612" cy="377" rx="14.500" ry="29" fill="#f4cdb4" stroke="#8a4830" stroke-width=".7"/>
<ellipse cx="613" cy="377" rx="9" ry="18" fill="#e0a080" stroke="#6a3020" stroke-width=".7"/>
<!-- slots -->
<g fill="#fffaf4" stroke="#7a3828" stroke-width=".7">
<path d="M597.500 362 Q598.500 352 602.500 346.500 L605.500 349 Q602 354 601 363 Z"/>
<path d="M596 381 Q595.500 374 596.500 367 L600 368 Q599.500 374 600 380 Z"/>
<path d="M598 396 Q596.500 390 596.300 385 L600 384.500 Q600.500 390 602 394.500 Z"/>
<path d="M605 409 Q601.500 405 599.500 400 L603 398.500 Q605 403 608 406 Z"/>
<path d="M618 410 Q613 412 609 410.500 L610.500 407 Q614 408 617 406.500 Z"/>
<path d="M625 399 Q623.500 405 620.500 408.500 L617.500 406 Q620 403 621 398 Z"/>
</g>
</g>
<!-- upper cylinder 30 -->
<path d="M657 328 L679 319.500 Q684 319 686 323 L690 333 Q690 338 686 340 L662 350 Z" fill="url(#cop2)" stroke="#5a2418" stroke-width=".9"/>
<path d="M678 320 L683 317 L688 319 L687 323 L682 325Z" fill="#e8c0a0" stroke="#6a3020" stroke-width=".6"/>
<!-- upper housing -->
<path d="M606 352 L618 341 L658 326 L664 328 L668 350 L664 356 L622 376 L610 380 L604 372 Z" fill="#d88868" stroke="#5a2018" stroke-width=".9"/>
<path d="M612 344 L658 326 L662 329 L616 348 Z" fill="#f0b898"/>
<!-- red section -->
<path d="M610 357 L622 350 L656 334 L660 332 L661.500 350 L657 352 L656 338 L626 352 L627 366 L616 371 L612 368 Z" fill="#d42828" stroke="#6a1010" stroke-width=".7"/>
<path d="M627 353 L655 340 L655.500 352 L628 365 Z" fill="#2a1410"/>
<path d="M632 352 L636 361 M639 349 L642 358 M646 346 L648 355" stroke="#e8d090" stroke-width="1.600"/>
<path d="M634 351 L637 349.500 L640 357.500 L637 359Z" fill="#7a1818"/>
<path d="M642 347.500 L645 346 L648 354 L645 355.500Z" fill="#d8a070"/>
<!-- piston rod tan -->
<path d="M616 373 L656 354 L659 360 L620 380 Z" fill="#c88860" stroke="#5a2418" stroke-width=".7"/>
<path d="M618 374 L656 356" stroke="#f0c8a0" stroke-width="1.200"/>
<!-- long red bar to right -->
<path d="M652 362 L694 342 L702 343 L705 348 L700 354 L694 352 L664 368 L654 370 Z" fill="#d83030" stroke="#6a1010" stroke-width=".8"/>
<path d="M660 364 L692 348" stroke="#f8c0a0" stroke-width="1.600"/>
<path d="M690 338 L700 335 L706 340 L707 349 L703 357 L698 358 L700 352 L703 347 L700 343 L693 343Z" fill="#c88058" stroke="#5a2418" stroke-width=".8"/>
<!-- middle red band / lower cut face -->
<path d="M622 381 L654 366 L664 369 L662 375 L650 378 L640 385 L628 389 Z" fill="#cc2c2c" stroke="#6a1010" stroke-width=".7"/>
<path d="M640 374 L660 366 L662 370 L644 378Z" fill="#3a1c14"/>
<path d="M630 383 L640 379 L642 383 L634 387Z" fill="#e8c8a0"/>
<!-- shaft 35 -->
<path d="M584 389.500 L619 373 L621.500 378 L586.500 395 Q583.500 394 584 389.500 Z" fill="#f4ccc4" stroke="#8a2420" stroke-width=".9"/>
<path d="M584 389.500 L588 388 L590 393.500 L586.500 395 Q583.500 394 584 389.500Z" fill="#5a2020"/>
<path d="M612 376 L624 370 L628 376 L616 382.500 Z" fill="#f8e0d8" stroke="#7a2420" stroke-width=".7"/>
<!-- tube fitting -->
<path d="M697 358 L700 358 L699.500 365 L696.500 365 Z" fill="#5a3020"/>
<path d="M672 372 L676 370 L677 376 L674 378Z" fill="#5a3020"/>
</g>

<!-- 42_knob34.svg -->
<g id="knob34">
<path d="M566 395 Q570 392.500 574 394.500 Q577.500 397 577.500 402 L577 408 L570 411 Z" fill="#3a1c24" stroke="#1c0c10" stroke-width=".7"/>
<path d="M528 396 Q534 388 546 386.500 Q558 386 566 394 Q575 404 576.500 420 Q577 430 570 436 L560 442 Q552 445 546 443 L540 436 Z" fill="#24121a"/>
<path d="M534 392 Q540 387 548 387 Q558 387 565 394 L562 398 Q554 391 544 392 L536 396 Z" fill="#8a3c50"/>
<path d="M527 399 Q527 395 531 394.500 L537 395.500 Q541 397 542 401 L551 436 Q552 441 548 442.500 L544 443 Q541 442.500 540 439 Z" fill="#5a2434" stroke="#1c0c10" stroke-width=".7"/>
<path d="M530 399 L543 438" stroke="#e0a0b0" stroke-width=".8"/>
<path d="M538 398 L549 436" stroke="#b06078" stroke-width=".7"/>
<path d="M530.500 397.500 Q532 396 533.500 397.500 L535 403 Q534 404.500 532.500 404 Z" fill="#fbeef0"/>
<path d="M545 444 Q556 446 566 439 Q576 431 577 420" fill="none" stroke="#7a3848" stroke-width="1"/>
</g>

<!-- 50_wiring.svg -->
<g id="wiring" fill="none" stroke-linejoin="miter">
<!-- ===== wires left ===== -->
<path d="M37 297 H63 V277" stroke="#181818" stroke-width="2.6"/>
<path d="M58.500 275 H67.500" stroke="#181818" stroke-width="2.4"/>
<path d="M63 283 V279" stroke="#fff" stroke-width="1"/>
<path d="M37 309 H101 V382 H123" stroke="#c4606c" stroke-width="4.2"/>
<path d="M37 309 H101 V382 H123" stroke="#fdf0ec" stroke-width="1.5"/>
<path d="M37 317 H94 V388.500 H123" stroke="#1c2024" stroke-width="3.5"/>
<path d="M37 410.400 H94 V396.500 H123" stroke="#d07868" stroke-width="3.8"/>
<path d="M37 410.400 H94 V396.500 H123" stroke="#201818" stroke-width="2.2" stroke-dasharray="7 6"/>
<path d="M37 417.500 H101 V404 H123" stroke="#243444" stroke-width="4"/>
<path d="M37 417.500 H101 V404 H123" stroke="#f4f4f4" stroke-width="1.2"/>
<path d="M37 428.500 H63 V449" stroke="#181818" stroke-width="2.6"/>
<path d="M58 452 H68" stroke="#181818" stroke-width="2.4"/>
<path d="M63 446 V442" stroke="#fff" stroke-width="1"/>
<!-- ===== lamps 37 ===== -->
<path d="M11 279 Q11 275.500 15 276 L35 279.500 Q37.500 280 37.500 283 V288.500 L11 290.500 Z" fill="#d82838" stroke="#901020" stroke-width=".8"/>
<path d="M11 290.500 L37.500 288.500 V318 L23 331.500 L13 331 Q11 331 11 328 Z" fill="#cc90c8" stroke="#80487c" stroke-width=".9"/>
<path d="M37 297 H17 V317 H37 M17 309 H37" stroke="#2a2030" stroke-width="1.4"/>
<g stroke="#2a2030" stroke-width="1" fill="#fbeee0"><circle cx="23" cy="310" r="3"/><circle cx="27" cy="310" r="3"/><circle cx="25" cy="316" r="3"/><circle cx="25" cy="313" r="2" /></g>
<path d="M11 400 Q11 397 14 397.500 L35 401.500 Q37.500 402 37.500 405 V441.500 L11 441.500 Z" fill="#cc90c8" stroke="#80487c" stroke-width=".9"/>
<path d="M11 441.500 L37.500 441.500 V447 L14 454 Q11 454.500 11 451 Z" fill="#d82838" stroke="#901020" stroke-width=".8"/>
<path d="M37 410.400 H17 V428.500 H37 M17 417.500 H37" stroke="#2a2030" stroke-width="1.4"/>
<g stroke="#2a2030" stroke-width="1" fill="#fbeee0"><ellipse cx="25" cy="413.500" rx="4" ry="5"/></g>
<path d="M27 410.500 Q22 412 25 413.500 Q28 415 23 416.500" stroke="#c04838" stroke-width=".9"/>
<!-- ===== fuse box ===== -->
<path d="M137 299 Q137 291 143 291 H150 Q152 285 158 285 H170 Q174 285 175 281 Q176 273 182 273 Q188 273 189 281 Q190 285 194 285 H206 Q212 285 214 291 H221 Q227 291 227 299 V423 Q227 431 221 431 H214 Q212 437 206 437 H194 Q190 437 189 442 Q188 452 182 452 Q176 452 175 442 Q174 437 170 437 H158 Q152 437 150 431 H143 Q137 431 137 423 Z" fill="#ee9260" stroke="#a85428" stroke-width="1.2"/>
<circle cx="182" cy="279.500" r="2.200" fill="#fff" stroke="#a05828" stroke-width=".9"/>
<circle cx="182" cy="446" r="2.200" fill="#fff" stroke="#a05828" stroke-width=".9"/>
<!-- relays -->
<rect x="179.500" y="304.500" width="27.500" height="31" fill="#fff" stroke="#8a4a20" stroke-width=".8"/>
<rect x="189.500" y="320" width="9.500" height="11" fill="#ec6c60" stroke="#a02c20" stroke-width=".8"/>
<rect x="180" y="383" width="28" height="28" fill="#fff" stroke="#8a4a20" stroke-width=".8"/>
<rect x="189.500" y="397.500" width="9.500" height="11" fill="#ec6c60" stroke="#a02c20" stroke-width=".8"/>
<path d="M194 316 V320 M194.500 393.500 V397.500" stroke="#c0a040" stroke-width="1"/>
<!-- traces -->
<g stroke="#2a1810" stroke-width="1.15">
<path d="M137 382 H143 V312 H152 M163 312 H180 M137 396.500 H149 V325 H152 M163 325 H168 V312 M137 388.500 H152 M163 388.500 H180 M137 404 H152 M163 404 H168 V388.500 M150 404 V428 H227 M137 299 H214 V388.500 H208 M207 312.500 H214 M137 305.500 H142 V299 M207 326 H227 M227 333 H221 V403 H208 M180 326 H174 V403 H180 M174 365 H227"/>
<path d="M190 307.500 L198 312.500 M190.500 386 L198 391"/>
</g>
<!-- fuses -->
<g fill="#e8c890" stroke="#5a3818" stroke-width=".8">
<rect x="152" y="310" width="11.500" height="4" rx="1.500"/><rect x="152" y="323" width="11.500" height="4" rx="1.500"/><rect x="152" y="386.500" width="11.500" height="4" rx="1.500"/><rect x="152" y="402" width="11.500" height="4" rx="1.500"/>
</g>
<!-- connectors -->
<g fill="#f2a674" stroke="#a85428" stroke-width=".9">
<rect x="123" y="296" width="14" height="6.500"/><rect x="123" y="302.500" width="14" height="6.500"/>
<rect x="123" y="379" width="14" height="7"/><rect x="123" y="386" width="14" height="7"/><rect x="123" y="393" width="14" height="7"/><rect x="123" y="400" width="14" height="7"/>
<rect x="227" y="295" width="13" height="6.500"/>
<rect x="227" y="323" width="13" height="6.500"/><rect x="227" y="329.500" width="13" height="6.500"/>
<rect x="227" y="361" width="13" height="6.500"/>
<rect x="227" y="425" width="13" height="6.500"/>
</g>
<!-- ===== wires right ===== -->
<path d="M240 298.500 H315 V272 H348" stroke="#b85070" stroke-width="3.4"/>
<path d="M240 298.500 H315 V272 H348" stroke="#fbe4e8" stroke-width="1.200"/>
<path d="M240 326 H324 V362 H351 V386" stroke="#c85048" stroke-width="3.2"/>
<path d="M240 326 H324 V362 H351 V386" stroke="#fff" stroke-width="1.6" stroke-dasharray="6 5"/>
<path d="M240 333 H316 V370 H343 V386" stroke="#7a3868" stroke-width="3.2"/>
<path d="M240 333 H316 V370 H343 V386" stroke="#fff" stroke-width="1.6" stroke-dasharray="6 5"/>
<path d="M240 364.500 H280.500 V399" stroke="#181818" stroke-width="2.6"/>
<path d="M276 406 H285.500" stroke="#181818" stroke-width="2.4"/>
<path d="M280.500 400 V404" stroke="#181818" stroke-width="1"/>
<path d="M240 428.500 H258 V446 H497 V416" stroke="#284878" stroke-width="3.2"/>
<path d="M240 428.500 H258 V446 H497 V416" stroke="#10141c" stroke-width="1.8" stroke-dasharray="8 7"/>
<path d="M348 280.500 H333 V356 H358 V386" stroke="#141414" stroke-width="3"/>
<path d="M348 290 H341 V350 H467 V312" stroke="#8a4878" stroke-width="3.4"/>
<path d="M348 290 H341 V350 H467 V312" stroke="#f8e4ec" stroke-width="1.200"/>
<path d="M364 386 V355.600 H474 V312" stroke="#384070" stroke-width="3.4"/>
<path d="M364 386 V355.600 H474 V312" stroke="#f0f0f8" stroke-width="1.200"/>
<path d="M406 392 V367.500 H497 V384" stroke="#181818" stroke-width="2.6"/>
<path d="M401.500 398.500 H411.500" stroke="#181818" stroke-width="2.400"/>
<circle cx="406" cy="394" r="1.600" fill="#fff" stroke="#181818" stroke-width=".8"/>
</g>

<!-- 55_wiring2.svg -->
<g id="wiring2">
<!-- connector III -->
<path d="M60 348.500 L66 348.500 Q68 345.500 70.500 348.500 L76.600 348.500 V382.800 H60.500 L56.200 379 V352.500 Z" fill="#2a1c14"/>
<path d="M61.500 352 H74 V380 H62 Z" fill="#5c3a22"/>
<path d="M67.500 350 V378" stroke="#3a2418" stroke-width="1.2"/>
<path d="M62.500 356 V352 M72.500 360 V354 M62.500 376 V370 M72.500 378 V371" stroke="#c03828" stroke-width="1"/>
<path d="M53 355.500 H57 M53 370 H57 M76 355.500 H80 M76 370 H80" stroke="#222" stroke-width=".9"/>
<!-- connector at ignition (3 pins) -->
<g stroke="#a06090" stroke-width=".8" fill="none">
<path d="M352 272 H384 L390 275 M352 280.500 H368 M352 290 H368 M355.500 272 V290"/>
</g>
<g fill="#181818"><path d="M352.500 272 L348 269.500 V274.500Z M352.500 280.500 L348 278 V283Z M352.500 290 L348 287.500 V292.500Z"/></g>
<path d="M348 268 V294" stroke="#b05878" stroke-width="1"/>
<!-- ignition switch 40 -->
<path d="M366 277.500 L380 275 L391 271.500 L418 284 L412.500 308 L388 299 L368 295 Z" fill="#f0a868" stroke="#9a5420" stroke-width="1"/>
<path d="M367 286 L384 286 L410 297 M367 281 L384 280 L392 283" fill="none" stroke="#a85c28" stroke-width=".8"/>
<path d="M401 283 L409 287 L406 300 L398 297 Z" fill="#fbe8c8" stroke="#2a1c10" stroke-width=".9"/>
<path d="M402 289 L398 297" stroke="#181010" stroke-width="1.400"/>
<path d="M415.500 289 L428 296.500 L425.500 307 L413 305 Z" fill="#181414"/>
<ellipse cx="423.500" cy="301.500" rx="2.500" ry="1.300" transform="rotate(25 423.5 301.5)" fill="#fff"/>
<!-- switch 41 -->
<rect x="454" y="269" width="31" height="30" fill="#f4b088" stroke="#a05828" stroke-width="1"/>
<path d="M465.500 275.500 L475 281.500 M479 282.500 V291 H473 V299 M467 299 V292.500 H461.500 V282.500 H466" fill="none" stroke="#2a1810" stroke-width="1.200"/>
<rect x="463" y="299" width="8" height="13" fill="#f4b088" stroke="#a05828" stroke-width=".9"/>
<rect x="471" y="299" width="8" height="13" fill="#f4b088" stroke="#a05828" stroke-width=".9"/>
<rect x="466" y="303.500" width="2.500" height="2" fill="#181010"/>
<rect x="474" y="303" width="2" height="3" fill="#c0a080"/>
<g stroke="#7a7068" stroke-width=".8" fill="none"><path d="M486 304 V317 M483 307 L486 310 L489 307 M483.500 311 L486 313.500 L488.500 311"/></g>
<!-- icon -->
<rect x="494" y="275.500" width="11" height="15.500" rx="1" fill="#4a2c28" stroke="#2a1814" stroke-width=".8"/>
<rect x="496" y="278" width="7" height="5" fill="#8a6860"/>
<circle cx="499.500" cy="286.500" r="2" fill="none" stroke="#e8a0a0" stroke-width=".8"/>
<!-- switch 43 -->
<g fill="#f0c8a0" stroke="#a05828" stroke-width=".9">
<rect x="340" y="386" width="7" height="13.500"/><rect x="347" y="386" width="7" height="13.500"/><rect x="354" y="386" width="7" height="13.500"/><rect x="361" y="386" width="7" height="13.500"/>
</g>
<g fill="#5a4838" font-size="3"><rect x="342.500" y="390" width="2" height="5"/><rect x="349.500" y="390" width="2" height="5"/><rect x="356.500" y="391" width="2" height="4" fill="#b09880"/><rect x="363.500" y="391" width="1.500" height="4" fill="#d0c0b0"/></g>
<rect x="327.500" y="399" width="24" height="28.500" fill="#f4d47c" stroke="#a07828" stroke-width=".9"/>
<rect x="351.500" y="399" width="29.500" height="28.500" fill="#f4a890" stroke="#a05838" stroke-width=".9"/>
<path d="M327.500 399 H381 V427.500 H327.500Z" fill="none" stroke="#8a5020" stroke-width="1"/>
<path d="M343.500 399.500 V403 H336 V407 M334 405.500 L337.500 414 V422.500 H358 V405 M350.500 399.500 V405 M348 407 L345.500 414 V417.500 H365 V400" fill="none" stroke="#2a1c10" stroke-width="1.200"/>
<path d="M353.500 427.500 V433" stroke="#3a2418" stroke-width="1.400"/>
<path d="M308 439.500 L347 434 L358 434 L358.500 438.500 L346 439 L311 443.500 Q307.500 443 308 439.500 Z" fill="#5a5448" stroke="#2a2820" stroke-width=".6"/>
<rect x="347.500" y="432.500" width="12" height="5" rx="1.500" fill="#e07868" stroke="#8a2820" stroke-width=".7"/>
<g stroke="#7a7068" stroke-width=".7" fill="none"><path d="M375.500 382 V397 M372.500 386 L375.500 389 L378.500 386 M373 390 L375.500 392.500 L378 390"/></g>
<!-- indicator 42 -->
<path d="M431 381 H505 V408 H431 Z" fill="#e83040"/>
<rect x="431" y="381" width="23" height="27" fill="#4070b0"/>
<rect x="479" y="381" width="26" height="13" fill="#7a3888"/>
<path d="M431 408 H505 V416 Q495 417 488 415.500 Q470 418 455 415.500 Q445 417 431 414 Z" fill="#e02848"/>
<path d="M505 381 H510 Q514 384 512.500 392 Q514.500 400 512.500 408 Q514 413 512 416 H505 Z" fill="#181414"/>
<path d="M431 394 H505 M454 381 V408 M479 381 V408" stroke="#f8e0e8" stroke-width=".9" fill="none"/>
<path d="M431 381 H505 V416" fill="none" stroke="#701828" stroke-width=".8"/>
<path d="M431 381 V414" fill="none" stroke="#203860" stroke-width=".8"/>
<g stroke="#141c30" stroke-width="1.100" fill="none">
<path d="M436 385 Q439 388 436 391 M440 385 Q437 388 440 391 M445.500 385 Q442.500 388 445.500 391 M447 386 H450 M447 388 H450 M447 390 H450"/>
<path d="M434 399 H436 M440 399 H442 M445 399 H447 M451 399 H452.500"/>
<ellipse cx="438" cy="399" rx="2.300" ry="1.800"/><ellipse cx="449" cy="399" rx="2.300" ry="1.800"/>
</g>
<g stroke="#1c1018" stroke-width="1.100" fill="none">
<ellipse cx="461.500" cy="387.500" rx="2" ry="3.200"/><path d="M466 385 H472 M466 387.500 H472 M466 390 H472 M469 383.500 V391.500"/>
<path d="M482 384 H489 M482 387.500 H489 M482 391 H489 M489.500 383.500 Q493 387.500 489.500 391.500"/>
<path d="M484.500 399 Q484.500 397 487.500 397 H498 Q500.500 397 500.500 399.500 V403 H484.500 Z M488 402 V404.500 M492.500 402 V404.500 M497 402 V404.500"/>
</g>
<circle cx="497.400" cy="388" r="4" fill="#fff" stroke="#181010" stroke-width="1.100"/>
<path d="M494.700 385.300 L500.100 390.700 M500.100 385.300 L494.700 390.700" stroke="#181010" stroke-width="1"/>
<path d="M497.400 392 V416" stroke="#181010" stroke-width="1.200"/>
</g>

<!-- 90_labels.svg -->
<g id="labels">
<path d="M625 75 L571 104" stroke="#f4dce6" stroke-width=".7" fill="none"/>
<g stroke="#3a3436" stroke-width=".75" fill="none">
<path d="M447 51L440.5 35M434 84L460 112M502 59L522 93M513.5 59L529 88M528 59L530.5 68.5M542 59L546.5 82.5M557 58L534 126M565 55L592 64M659 23L667 41M673.5 19.5L677.5 29.5M692 10L696.5 24.5M722.5 48.5L720 26M701.5 60.5L696.5 56.5M719 73L691 89M719.5 105.5L639 126M719.5 116.5L620 138M719 156.5L643 172M721.5 208.5L708 201M721.5 248L702 242M721.5 258.5L692 255M415 189.5L447 171M430 199.5L461 181M442 208.5L500 172M460.5 216.5L475 209M474 225L508 205.5M494 234.5L561 187M388.5 223L380 216.5M367 237.5L356 227M357 243L344.5 230.5M347.5 249L341 232M30 344L22 330M28 386L21 400M127 330L139 339M219 282L200 305M236.5 389L208 396M421.5 277.5L416 282M448.5 277L455 280M505.5 370L500 383M388 424L375 415M673.3 307.5L668 319.3M703.5 307.5L693.3 339.3M588 336.7L597.3 350M565.3 352.7L588 387.3M587 426.4L576.6 420.3M624.5 423.5L620 386M668 420L661.3 374M684 420L690.7 403.3M686 420L704 410"/>
<path d="M508 205.500 Q513 202 513 190 Q512.500 180 514 172"/>
</g>
<g font-size="9.6" text-anchor="middle" fill="#262224" stroke="#262224" stroke-width=".25">
<text x="449.5" y="57.9">12</text>
<text x="429.5" y="84.4">11</text>
<text x="500.5" y="57.9">13</text>
<text x="513.5" y="57.9">14</text>
<text x="528" y="57.9">15</text>
<text x="541.5" y="57.9">16</text>
<text x="559" y="56.4">17</text>
<text x="658" y="22.4">18</text>
<text x="673" y="18.6">19</text>
<text x="691.5" y="9.4">20</text>
<text x="724" y="55.9">21</text>
<text x="706" y="65.4">22</text>
<text x="725.5" y="74.4">23</text>
<text x="725.5" y="107">24</text>
<text x="725.5" y="118.4">25</text>
<text x="725.5" y="159">26</text>
<text x="726" y="213.4">27</text>
<text x="727.5" y="251.9">28</text>
<text x="727.5" y="262.9">29</text>
<text x="409" y="195.4">10</text>
<text x="426" y="205.4">5</text>
<text x="437.5" y="214.9">4</text>
<text x="456" y="222.4">3</text>
<text x="469.5" y="230.9">2</text>
<text x="489.5" y="240">1</text>
<text x="392" y="228.8">6</text>
<text x="369" y="244.1">7</text>
<text x="358.7" y="249.8">8</text>
<text x="348.8" y="256.2">9</text>
<text x="33" y="351.4">37</text>
<text x="32" y="385.4">37</text>
<text x="121" y="331.4">38</text>
<text x="222" y="280.4">39</text>
<text x="242.5" y="391.4">44</text>
<text x="426" y="279.4">40</text>
<text x="443" y="279">41</text>
<text x="509" y="369.4">42</text>
<text x="393" y="430.4">43</text>
<text x="674" y="306.7">30</text>
<text x="704" y="306.7">21</text>
<text x="585.3" y="336.1">36</text>
<text x="562" y="351.4">35</text>
<text x="591.3" y="434.4">34</text>
<text x="624.8" y="432.1">33</text>
<text x="668.5" y="428.4">32</text>
<text x="682.5" y="428.4">31</text>
</g>
<g font-size="11.5" text-anchor="middle" fill="#262224" stroke="#262224" stroke-width=".3">
<text x="246" y="265.300">II</text><text x="70.300" y="337">III</text>
</g>
<g font-size="10.5" text-anchor="middle" fill="#262224" stroke="#262224" stroke-width=".2">
<text x="48.400" y="358.500">b</text><text x="48.400" y="373">a</text><text x="84.500" y="358.500">c</text><text x="84.500" y="373">d</text>
</g>
<g font-size="5.4" text-anchor="middle" fill="#4a4038">
<text x="128" y="291.5">ш 8</text>
<text x="234.5" y="291">ш 1</text>
<text x="234.5" y="319.5">ш 4</text>
<text x="234.5" y="358">ш 3</text>
<text x="130" y="374">ш 5</text>
<text x="236" y="420">ш 2</text>
</g>
<g font-size="5.2" text-anchor="middle" fill="#5a3418">
<text x="130" y="301.2">6</text>
<text x="130" y="307.7">5</text>
<text x="233.5" y="300.2">5</text>
<text x="233.5" y="328.2">2</text>
<text x="233.5" y="334.7">12</text>
<text x="233.5" y="366.2">5</text>
<text x="233.5" y="430.2">6</text>
<text x="130" y="384.4">4</text>
<text x="130" y="391.4">1</text>
<text x="130" y="398.4">3</text>
<text x="130" y="405.4">2</text>
<text x="157.7" y="309">16</text>
<text x="157.7" y="322">15</text>
<text x="157.7" y="385.5">13</text>
<text x="157.7" y="401">14</text>
<text x="184" y="311">87</text>
<text x="203" y="311">30</text>
<text x="184" y="328">86</text>
<text x="203" y="328">85</text>
<text x="184.5" y="389.5">87</text>
<text x="203.5" y="389.5">30</text>
<text x="184.5" y="408">86</text>
<text x="203.5" y="408">85</text>
</g>
<g font-size="4.2" fill="#6a5058"><text x="358" y="270.500">30</text><text x="358" y="279">INT</text><text x="358" y="288.500">15/1</text></g>
<g stroke="#6a6058" stroke-width=".7" fill="none"><path d="M111 296.500 V300 M109.300 298.200 H112.700 M114 299.500 H122 M114 306 H122 M119.500 298 L122 299.500 L119.500 301 M119.500 304.500 L122 306 L119.500 307.500"/><path d="M125 416 H135 M128 414 L130 416 L128 418 M132 414 L130 416 L132 418"/><path d="M236 437 H250 M241 435 L243.500 437 L241 439 M246.500 434.500 L244 437 L246.500 439.500"/></g>
</g>

</svg>
</body></html>
